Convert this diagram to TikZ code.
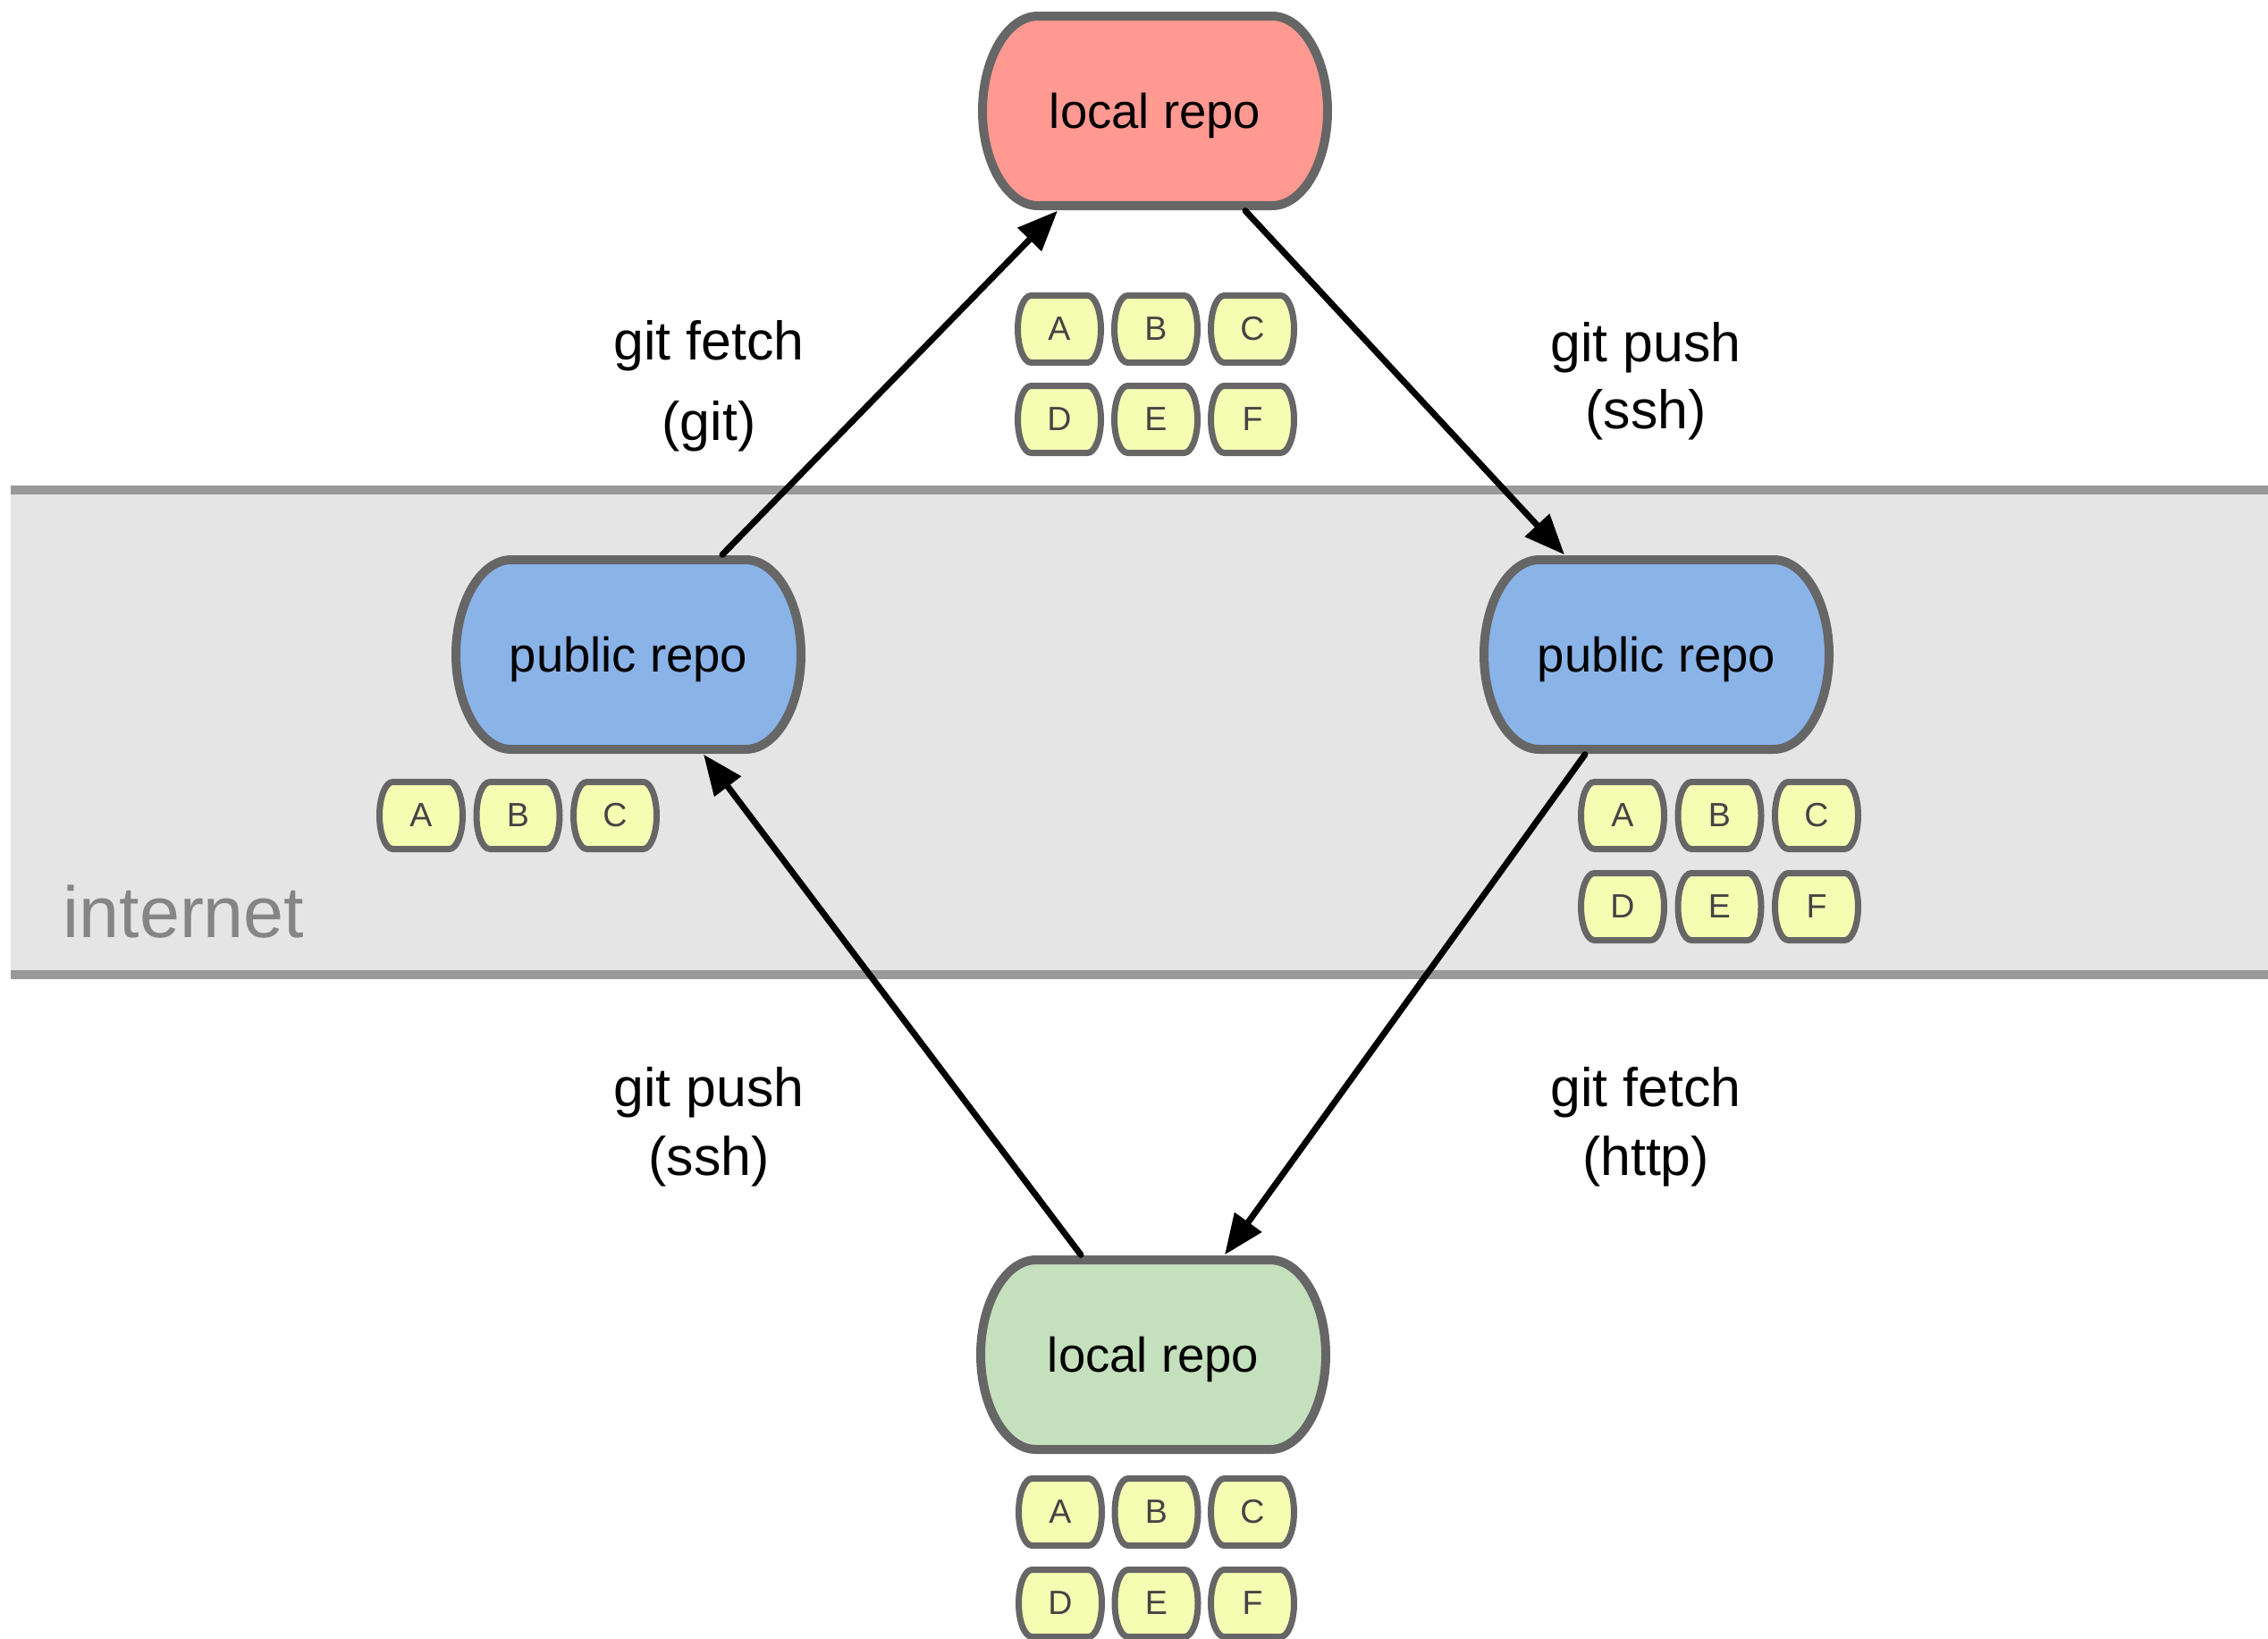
\documentclass[tikz,border=0pt]{standalone}
\usepackage{fontspec}
\setmainfont{Liberation Sans}
\usetikzlibrary{arrows.meta,backgrounds}
\definecolor{framegray}{RGB}{102,102,102}
\definecolor{bandgray}{RGB}{229,229,229}
\definecolor{bandline}{RGB}{153,153,153}
\definecolor{nettext}{RGB}{133,133,133}
\definecolor{lettergray}{RGB}{68,68,68}
\definecolor{localred}{RGB}{255,153,146}
\definecolor{publicblue}{RGB}{138,179,232}
\definecolor{localgreen}{RGB}{197,224,189}
\definecolor{commityellow}{RGB}{245,253,179}

% barrel outline: half width, half height, corner inset
\newcommand{\barrel}[3]{(-#1+#3,#2) -- (#1-#3,#2) .. controls (#1-0.45*#3,#2) and (#1,0.55*#2) .. (#1,0) .. controls (#1,-0.55*#2) and (#1-0.45*#3,-#2) .. (#1-#3,-#2) -- (-#1+#3,-#2) .. controls (-#1+0.45*#3,-#2) and (-#1,-0.55*#2) .. (-#1,0) .. controls (-#1,0.55*#2) and (-#1+0.45*#3,#2) .. cycle}

\begin{document}
\begin{tikzpicture}[
  repo/.style={minimum width=3.96cm, minimum height=2.22cm, inner sep=0pt, text depth=0pt,
    font=\fontsize{15.5}{18}\selectfont},
  commit/.style={minimum width=1.00cm, minimum height=0.82cm, inner sep=0pt, text=lettergray,
    font=\fontsize{10.7}{12}\selectfont},
  repobox/.style={fill=#1, draw=framegray, line width=0.1cm},
  commitbox/.style={fill=commityellow, draw=framegray, line width=0.07cm},
  gitcmd/.style={align=center, inner sep=0pt},
  sync/.style={-{Triangle[length=0.45cm,width=0.36cm]}, line width=0.07cm, line cap=round}
]
\useasboundingbox (0,0) rectangle (25.37,-18.33);

% repositories
\node[repo] (toplocal) at (12.92,-1.24) {local repo};
\node[repo] (leftpub) at (7.03,-7.32) {public repo};
\node[repo] (rightpub) at (18.53,-7.32) {public repo};
\node[repo] (botlocal) at (12.90,-15.15) {local repo};

% commits
\foreach \lbl/\i/\j in {A/0/0, B/1/0, C/2/0, D/0/1, E/1/1, F/2/1}
  \node[commit] (top\lbl) at (11.85+1.08*\i, -3.68-1.01*\j) {\lbl};
\foreach \lbl/\i in {A/0, B/1, C/2}
  \node[commit] (left\lbl) at (4.71+1.085*\i, -9.12) {\lbl};
\foreach \lbl/\i/\j in {A/0/0, B/1/0, C/2/0, D/0/1, E/1/1, F/2/1}
  \node[commit] (right\lbl) at (18.15+1.085*\i, -9.12-1.02*\j) {\lbl};
\foreach \lbl/\i/\j in {A/0/0, B/1/0, C/2/0, D/0/1, E/1/1, F/2/1}
  \node[commit] (bot\lbl) at (11.86+1.075*\i, -16.91-1.02*\j) {\lbl};

% transfers
\draw[sync] ([xshift=1.05cm]leftpub.north) -- ([xshift=-1.09cm]toplocal.south);
\draw[sync] ([xshift=1.01cm]toplocal.south) -- ([xshift=-1.03cm]rightpub.north);
\draw[sync] ([xshift=-0.80cm]rightpub.south) -- ([xshift=0.80cm]botlocal.north);
\draw[sync] ([xshift=-0.81cm]botlocal.north) -- ([xshift=0.84cm]leftpub.south);

\node[gitcmd, font=\fontsize{17.3}{25.6}\selectfont] (fetchgit) at (7.93,-4.32) {git fetch\\(git)};
\node[gitcmd, font=\fontsize{17.3}{21.4}\selectfont] (pushtop) at (18.41,-4.26) {git push\\(ssh)};
\node[gitcmd, font=\fontsize{17.3}{21.8}\selectfont] (pushbot) at (7.93,-12.60) {git push\\(ssh)};
\node[gitcmd, font=\fontsize{17.3}{21.8}\selectfont] (fetchhttp) at (18.41,-12.60) {git fetch\\(http)};

\begin{scope}[on background layer]
  % internet band
  \fill[bandgray] (0.12,-5.48) rectangle (25.37,-10.90);
  \draw[bandline, line width=0.1cm] (0.12,-5.48) -- (25.37,-5.48);
  \draw[bandline, line width=0.1cm] (0.12,-10.90) -- (25.37,-10.90);
  \node[anchor=base west, inner sep=0pt, text=nettext, font=\fontsize{23}{27}\selectfont] (net) at (0.70,-10.48) {internet};
  % outlines
  \foreach \n/\c in {toplocal/localred, leftpub/publicblue, rightpub/publicblue, botlocal/localgreen}
    \path[repobox=\c, shift={(\n.center)}] \barrel{1.93}{1.06}{0.62};
  \foreach \g in {top, right, bot}
    \foreach \lbl in {A,B,C,D,E,F}
      \path[commitbox, shift={(\g\lbl.center)}] \barrel{0.465}{0.375}{0.15};
  \foreach \lbl in {A,B,C}
    \path[commitbox, shift={(left\lbl.center)}] \barrel{0.465}{0.375}{0.15};
\end{scope}
\end{tikzpicture}
\end{document}
